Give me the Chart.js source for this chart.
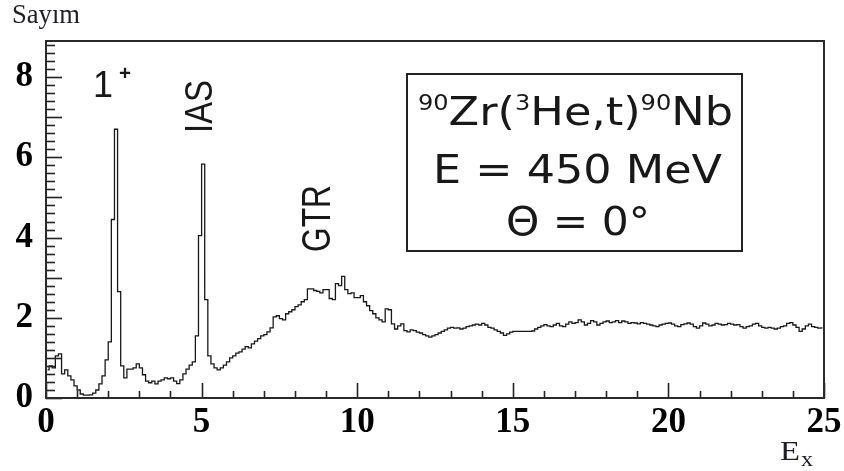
<!DOCTYPE html>
<html><head><meta charset="utf-8">
<style>html,body{margin:0;padding:0;background:#fff;}canvas{display:block;}</style>
<script src="https://cdn.jsdelivr.net/npm/chart.js@4.4.1/dist/chart.umd.min.js"></script>
</head><body>
<canvas id="c" width="844" height="471"></canvas>
<script>
// ---- data (counts per 0.1 MeV bin) ----
const binWidth = 0.1;
const counts_0_5 = [
  0.7, 0.8, 0.75, 1.05, 1.1, 0.6, 0.7, 0.55, 0.45, 0.3,
  0.2, 0.1, 0.07, 0.07, 0.08, 0.12, 0.2, 0.35, 0.55, 0.95,
  1.4, 4.45, 6.7, 2.65, 0.8, 0.5, 0.72, 0.72, 0.75, 0.85,
  0.75, 0.58, 0.42, 0.38, 0.42, 0.35, 0.42, 0.45, 0.5, 0.48,
  0.5, 0.42, 0.36, 0.45, 0.6, 0.72, 0.82, 0.9, 1.55, 4.05
];
const counts_5_10 = [
  5.83, 2.45, 1.05, 0.85, 0.75, 0.7, 0.75, 0.82, 0.9, 1.0,
  1.05, 1.12, 1.15, 1.22, 1.28, 1.25, 1.35, 1.42, 1.48, 1.55,
  1.58, 1.65, 1.75, 2.02, 2.05, 1.98, 1.95, 2.1, 2.15, 2.2,
  2.28, 2.32, 2.4, 2.45, 2.72, 2.72, 2.68, 2.66, 2.62, 2.7,
  2.7, 2.48, 2.45, 2.85, 2.8, 3.03, 2.7, 2.6, 2.62, 2.5
];
const counts_10_15 = [
  2.5, 2.55, 2.4, 2.3, 2.18, 2.1, 2.0, 1.95, 1.9, 2.22,
  2.2, 1.85, 1.72, 1.8, 1.85, 1.68, 1.65, 1.7, 1.68, 1.64,
  1.62, 1.58, 1.55, 1.52, 1.55, 1.58, 1.62, 1.66, 1.7, 1.74,
  1.76, 1.74, 1.75, 1.72, 1.74, 1.78, 1.8, 1.82, 1.84, 1.82,
  1.86, 1.82, 1.76, 1.74, 1.7, 1.66, 1.62, 1.56, 1.6, 1.64
];
const counts_15_20 = [
  1.66, 1.66, 1.66, 1.66, 1.66, 1.66, 1.67, 1.72, 1.76, 1.8,
  1.83, 1.8, 1.78, 1.82, 1.86, 1.8, 1.78, 1.84, 1.9, 1.86,
  1.88, 1.95, 1.9, 1.82, 1.86, 1.93, 1.9, 1.82, 1.86, 1.9,
  1.92, 1.88, 1.9, 1.93, 1.88, 1.92, 1.9, 1.86, 1.88, 1.87,
  1.85, 1.88, 1.86, 1.84, 1.82, 1.8, 1.78, 1.82, 1.84, 1.86
];
const counts_20_25 = [
  1.87, 1.84, 1.8, 1.78, 1.83, 1.85, 1.87, 1.84, 1.78, 1.74,
  1.8, 1.87, 1.84, 1.8, 1.82, 1.86, 1.84, 1.82, 1.83, 1.86,
  1.84, 1.82, 1.83, 1.78, 1.74, 1.78, 1.8, 1.84, 1.86, 1.8,
  1.76, 1.74, 1.76, 1.74, 1.72, 1.74, 1.78, 1.8, 1.86, 1.88,
  1.82, 1.76, 1.66, 1.72, 1.8, 1.84, 1.78, 1.76, 1.74, 1.75
];
const xTickValues = [0, 5, 10, 15, 20, 25];
const xTickLabels = ['0', '5', '10', '15', '20', '25'];
const yTickValues = [0, 2, 4, 6, 8];
const yTickLabels = ['0', '2', '4', '6', '8'];
const yAxisTitle = 'Sayım';
const xAxisTitle = ['E', 'x'];
const peakLabels = ['1', '+', 'IAS', 'GTR'];
const boxLines = [
  [['90', true], ['Zr(', false], ['3', true], ['He,t)', false], ['90', true], ['Nb', false]],
  [['E = 450 MeV', false]],
  [['Θ = 0°', false]]
];

const counts = [].concat(counts_0_5, counts_5_10, counts_10_15, counts_15_20, counts_20_25);
const points = counts.map((c, i) => ({ x: (i + 0.5) * binWidth, y: c }));

const INK = '#181818';

function fitText(ctx, segs, x, y, length, rotate) {
  let total = 0;
  segs.forEach(s => { ctx.font = s.font; s.w = ctx.measureText(s.t).width; total += s.w; });
  const sx = length ? length / total : 1;
  ctx.save();
  ctx.translate(x, y);
  if (rotate) ctx.rotate(-Math.PI / 2);
  ctx.scale(sx, 1);
  ctx.textAlign = 'left';
  ctx.textBaseline = 'alphabetic';
  let cx = 0;
  segs.forEach(s => { ctx.font = s.font; ctx.fillText(s.t, cx, s.dy || 0); cx += s.w; });
  ctx.restore();
}

const decor = {
  id: 'decor',
  afterDatasetsDraw(chart) {
    const ctx = chart.ctx, a = chart.chartArea;
    const xs = chart.scales.x, ys = chart.scales.y;
    ctx.save();
    ctx.strokeStyle = '#222';
    ctx.fillStyle = INK;
    // inside ticks on x
    ctx.lineWidth = 1.6;
    for (let v = 0; v <= 25; v += 1) {
      const px = Math.round(xs.getPixelForValue(v)) + 0.5;
      const len = (v % 5 === 0) ? 15 : 7;
      ctx.beginPath(); ctx.moveTo(px, a.bottom); ctx.lineTo(px, a.bottom - len); ctx.stroke();
    }
    // inside ticks on y
    for (let k = 0; k <= 44; k++) {
      const v = k * 0.2;
      const py = Math.round(ys.getPixelForValue(v)) + 0.5;
      const len = (k % 5 === 0) ? 16 : 9;
      ctx.beginPath(); ctx.moveTo(a.left, py); ctx.lineTo(a.left + len, py); ctx.stroke();
    }
    // frame
    ctx.lineWidth = 2;
    ctx.strokeStyle = '#2a2a2a';
    ctx.strokeRect(a.left, a.top, a.right - a.left, a.bottom - a.top);

    // peak labels
    fitText(ctx, [{ t: peakLabels[0], font: '36px "Liberation Sans"' }], 93, 97, 0, false);
    fitText(ctx, [{ t: peakLabels[1], font: 'bold 20px "Liberation Sans"' }], 119, 80, 12, false);
    fitText(ctx, [{ t: peakLabels[2], font: '38px "Liberation Sans"' }], 212, 133, 53, true);
    fitText(ctx, [{ t: peakLabels[3], font: '40px "Liberation Sans"' }], 330, 252, 67, true);

    // info box
    ctx.lineWidth = 2;
    ctx.strokeStyle = '#222';
    ctx.strokeRect(407, 74, 335, 177);
    const big = '39px "DejaVu Sans"', small = '21px "DejaVu Sans"';
    const mk = line => line.map(([t, sup]) => ({ t, font: sup ? small : big, dy: sup ? -15 : 0 }));
    fitText(ctx, mk(boxLines[0]), 418, 125, 315, false);
    fitText(ctx, mk(boxLines[1]), 433, 183, 289, false);
    fitText(ctx, mk(boxLines[2]), 506, 235, 144, false);

    // axis titles
    ctx.fillStyle = '#1e1e2a';
    fitText(ctx, [{ t: yAxisTitle, font: '27px "Liberation Serif"' }], 12, 23, 68, false);
    fitText(ctx, [{ t: xAxisTitle[0], font: '28px "Liberation Serif"' }], 780, 460, 20, false);
    fitText(ctx, [{ t: xAxisTitle[1], font: '22px "Liberation Serif"' }], 801, 466, 12, false);
    ctx.restore();
  }
};

new Chart(document.getElementById('c'), {
  type: 'line',
  data: {
    datasets: [{
      data: points,
      stepped: 'middle',
      borderColor: INK,
      borderWidth: 1.3,
      pointRadius: 0,
      fill: false,
      tension: 0
    }]
  },
  options: {
    responsive: false,
    animation: false,
    devicePixelRatio: 1,
    layout: { padding: { top: 41, right: 20, left: 0, bottom: 0 } },
    plugins: { legend: { display: false }, tooltip: { enabled: false } },
    scales: {
      x: {
        type: 'linear', min: 0, max: 25,
        afterBuildTicks: s => { s.ticks = xTickValues.map(v => ({ value: v })); },
        afterFit: s => { s.height = 73; s.paddingLeft = 0; s.paddingRight = 0; },
        grid: { display: false, drawTicks: false },
        border: { display: false },
        ticks: {
          autoSkip: false, maxRotation: 0, padding: 4, color: '#000',
          font: { family: 'Liberation Serif', weight: 'bold', size: 35 },
          callback: (v, i) => xTickLabels[i]
        }
      },
      y: {
        type: 'linear', min: 0, max: 8.9,
        afterBuildTicks: s => { s.ticks = yTickValues.map(v => ({ value: v })); },
        afterFit: s => { s.width = 46; s.paddingTop = 0; s.paddingBottom = 0; },
        grid: { display: false, drawTicks: false },
        border: { display: false },
        ticks: {
          autoSkip: false, padding: 13, color: '#000',
          font: { family: 'Liberation Serif', weight: 'bold', size: 35 },
          callback: (v, i) => yTickLabels[i]
        }
      }
    }
  },
  plugins: [decor]
});
</script>
</body></html>
